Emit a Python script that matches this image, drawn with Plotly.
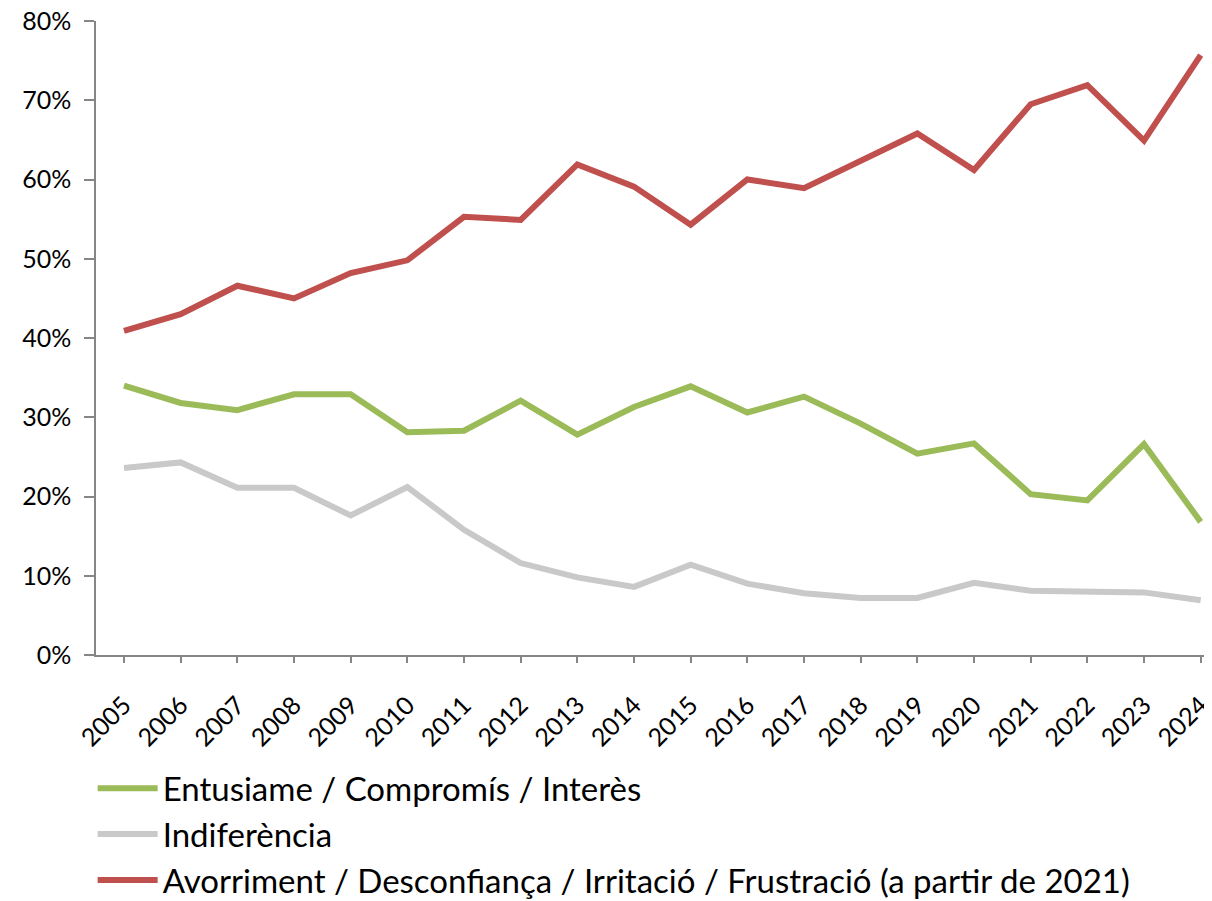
import plotly.graph_objects as go

years = list(range(2005, 2025))
entusiasme = [34.0, 31.8, 30.9, 32.9, 32.9, 28.1, 28.3, 32.1, 27.8, 31.3,
              33.9, 30.6, 32.6, 29.2, 25.4, 26.7, 20.3, 19.5, 26.6, 16.8]
indiferencia = [23.6, 24.3, 21.1, 21.1, 17.6, 21.2, 15.8, 11.6, 9.8, 8.6,
                11.4, 9.0, 7.8, 7.2, 7.2, 9.1, 8.1, 8.0, 7.9, 6.9]
avorriment = [40.9, 43.0, 46.6, 45.0, 48.2, 49.8, 55.3, 54.9, 61.9, 59.1,
              54.3, 60.0, 58.9, 62.4, 65.8, 61.2, 69.5, 71.9, 64.9, 75.7]
series_names = ["Entusiame / Compromís / Interès",
                "Indiferència",
                "Avorriment / Desconfiança / Irritació / Frustració (a partir de 2021)"]
series_values = [entusiasme, indiferencia, avorriment]
colors = ["#9BBB59", "#C9C9C9", "#C0504D"]
y_ticks = [0, 10, 20, 30, 40, 50, 60, 70, 80]
y_tick_labels = [f"{v}%" for v in y_ticks]

fig = go.Figure()
for name, vals, col in zip(series_names, series_values, colors):
    fig.add_trace(go.Scatter(
        x=years, y=vals, mode="lines", name=name,
        line=dict(color=col, width=6),
    ))

font_family = "Lato, 'Open Sans', sans-serif"
fig.update_layout(
    width=1204, height=893,
    margin=dict(l=88, r=0, t=13, b=246, autoexpand=False),
    plot_bgcolor="white", paper_bgcolor="white",
    font=dict(family=font_family, color="black", size=25),
    showlegend=True,
    legend=dict(
        orientation="v", x=-0.003, xanchor="left", y=-0.166, yanchor="top",
        font=dict(size=33, color="black"), itemwidth=60,
        tracegroupgap=0, bgcolor="rgba(0,0,0,0)",
    ),
    xaxis=dict(
        range=[2004.506, 2024.2], tickmode="array", tickvals=years,
        ticktext=[str(y) for y in years], tickangle=-45,
        showgrid=False, zeroline=False, showline=True,
        linecolor="#868686", linewidth=1.5, automargin=False,
        ticks="outside", ticklen=6, tickcolor="#868686", tickwidth=1.5,
        tickfont=dict(size=25, color="black"), ticklabeloverflow="allow",
        ticklabelstandoff=18,
    ),
    yaxis=dict(
        range=[0, 80], tickmode="array", tickvals=y_ticks, ticktext=y_tick_labels,
        showgrid=False, zeroline=False, showline=True,
        linecolor="#868686", linewidth=1.5, automargin=False,
        ticks="outside", ticklen=10, tickcolor="#868686", tickwidth=1.5,
        tickfont=dict(size=25, color="black"), ticklabeloverflow="allow",
        ticklabelstandoff=8,
    ),
)

fig.write_html("out.html")
